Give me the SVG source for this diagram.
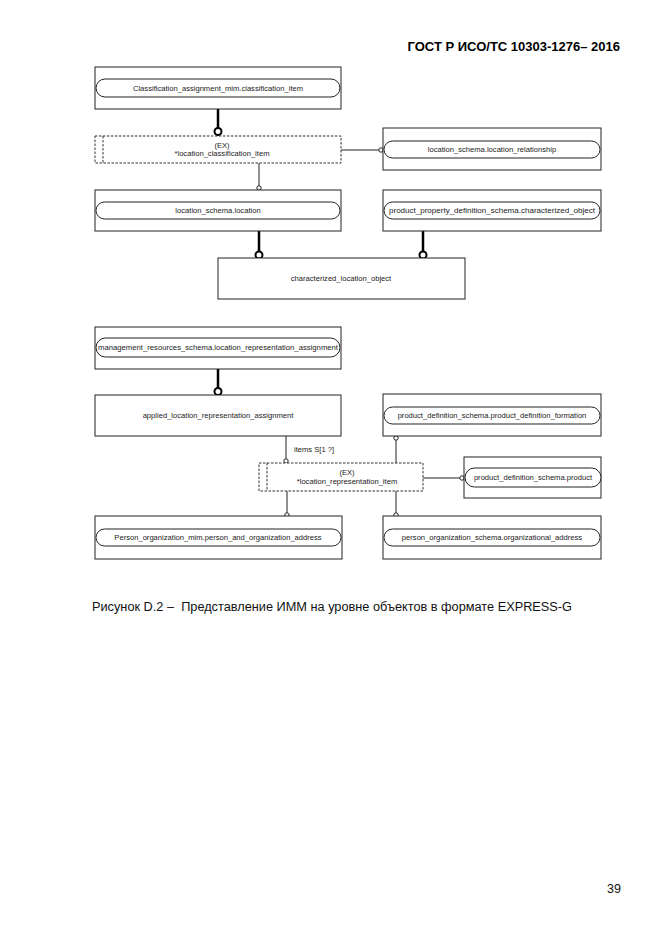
<svg xmlns="http://www.w3.org/2000/svg" width="661" height="935" viewBox="0 0 661 935">
<style>
.box{fill:#fff;stroke:#222;stroke-width:1}
.pill{fill:#fff;stroke:#222;stroke-width:1}
.dash{fill:#fff;stroke:#333;stroke-width:1;stroke-dasharray:2.5,1.5}
.t{font-family:"Liberation Sans",Arial,sans-serif;font-size:7.6px;fill:#222;text-anchor:middle}
.thick{stroke:#000;stroke-width:2.5;fill:none}
.thin{stroke:#222;stroke-width:1;fill:none}
.bc{fill:#fff;stroke:#000;stroke-width:2}
.sc{fill:#fff;stroke:#222;stroke-width:1}
.hdr{font-family:"Liberation Sans",Arial,sans-serif;font-size:13px;font-weight:bold;fill:#000}
.cap{font-family:"Liberation Sans",Arial,sans-serif;font-size:12.5px;fill:#111}
</style>
<rect width="661" height="935" fill="#fff"/>
<text class="hdr" x="620" y="51" text-anchor="end">ГОСТ Р ИСО/ТС 10303-1276– 2016</text>

<g id="connectors">
<line class="thick" x1="218" y1="109" x2="218" y2="128"/>
<circle class="bc" cx="218" cy="131.5" r="3.5"/>
<line class="thin" x1="341" y1="150" x2="379" y2="150"/>
<circle class="sc" cx="381" cy="150" r="2.2"/>
<line class="thin" x1="259" y1="163" x2="259" y2="186"/>
<circle class="sc" cx="259" cy="188" r="2.2"/>
<line class="thick" x1="259" y1="231" x2="259" y2="252"/>
<circle class="bc" cx="259" cy="255" r="3.5"/>
<line class="thick" x1="423" y1="231" x2="423" y2="252"/>
<circle class="bc" cx="423" cy="255" r="3.5"/>
<line class="thick" x1="218" y1="369" x2="218" y2="388"/>
<circle class="bc" cx="218" cy="391.5" r="3.5"/>
<line class="thin" x1="286" y1="436" x2="286" y2="459"/>
<circle class="sc" cx="286" cy="461" r="2.2"/>
<text class="t" x="294" y="452" style="text-anchor:start">items S[1 ?]</text>
<line class="thin" x1="396" y1="440" x2="396" y2="463"/>
<circle class="sc" cx="396" cy="438" r="2.2"/>
<line class="thin" x1="423" y1="478" x2="460" y2="478"/>
<circle class="sc" cx="462" cy="478" r="2.2"/>
<line class="thin" x1="287" y1="491" x2="287" y2="513"/>
<circle class="sc" cx="287" cy="515" r="2.2"/>
<line class="thin" x1="396" y1="491" x2="396" y2="513"/>
<circle class="sc" cx="396" cy="515" r="2.2"/>
</g>

<g id="n_classification_item">
<rect class="box" x="95" y="67" width="246" height="42"/>
<rect class="pill" x="96" y="79" width="244" height="18" rx="9"/>
<text class="t" x="218" y="90.8">Classification_assignment_mim.classification_item</text>
</g>

<g id="n_location_classification_item">
<rect class="dash" x="95" y="136" width="246" height="27"/>
<line class="dash" x1="103" y1="136" x2="103" y2="163"/>
<text class="t" x="222" y="147.5">(EX)</text>
<text class="t" x="222" y="156.3">*location_classification_item</text>
</g>

<g id="n_location_relationship">
<rect class="box" x="383" y="128" width="218" height="42"/>
<rect class="pill" x="384" y="141" width="216" height="17" rx="8.5"/>
<text class="t" x="492" y="152.3">location_schema.location_relationship</text>
</g>

<g id="n_location">
<rect class="box" x="95" y="190" width="246" height="41"/>
<rect class="pill" x="96" y="202" width="244" height="17" rx="8.5"/>
<text class="t" x="218" y="213.3">location_schema.location</text>
</g>

<g id="n_characterized_object">
<rect class="box" x="383" y="190" width="218" height="41"/>
<rect class="pill" x="384" y="202" width="216" height="17" rx="8.5"/>
<text class="t" x="492" y="213.3" textLength="206" lengthAdjust="spacingAndGlyphs">product_property_definition_schema.characterized_object</text>
</g>

<g id="n_characterized_location_object">
<rect class="box" x="218" y="258" width="247" height="41"/>
<text class="t" x="341" y="281">characterized_location_object</text>
</g>

<g id="n_location_representation_assignment">
<rect class="box" x="95" y="327" width="246" height="42"/>
<rect class="pill" x="96" y="338" width="244" height="19" rx="9.5"/>
<text class="t" x="218" y="350.3" textLength="240" lengthAdjust="spacingAndGlyphs">management_resources_schema.location_representation_assignment</text>
</g>

<g id="n_applied_location_representation_assignment">
<rect class="box" x="95" y="395" width="246" height="41"/>
<text class="t" x="218" y="418">applied_location_representation_assignment</text>
</g>

<g id="n_product_definition_formation">
<rect class="box" x="383" y="394" width="218" height="42"/>
<rect class="pill" x="384" y="407" width="216" height="17" rx="8.5"/>
<text class="t" x="492" y="418.3">product_definition_schema.product_definition_formation</text>
</g>

<g id="n_location_representation_item">
<rect class="dash" x="259" y="463" width="164" height="28"/>
<line class="dash" x1="267" y1="463" x2="267" y2="491"/>
<text class="t" x="347" y="474.5">(EX)</text>
<text class="t" x="347" y="483.8">*location_representation_item</text>
</g>

<g id="n_product">
<rect class="box" x="464" y="457" width="137" height="41"/>
<rect class="pill" x="465" y="468" width="136" height="19" rx="9.5"/>
<text class="t" x="533" y="480.3">product_definition_schema.product</text>
</g>

<g id="n_person_and_organization_address">
<rect class="box" x="95" y="516" width="247" height="43"/>
<rect class="pill" x="96" y="529" width="245" height="17" rx="8.5"/>
<text class="t" x="218" y="540.3">Person_organization_mim.person_and_organization_address</text>
</g>

<g id="n_organizational_address">
<rect class="box" x="383" y="516" width="218" height="43"/>
<rect class="pill" x="384" y="529" width="216" height="17" rx="8.5"/>
<text class="t" x="492" y="540.3">person_organization_schema.organizational_address</text>
</g>

<text class="cap" x="92" y="611" textLength="480" lengthAdjust="spacingAndGlyphs">Рисунок D.2 –&#160; Представление ИММ на уровне объектов в формате EXPRESS-G</text>
<text class="cap" x="621" y="893" text-anchor="end">39</text>
</svg>
